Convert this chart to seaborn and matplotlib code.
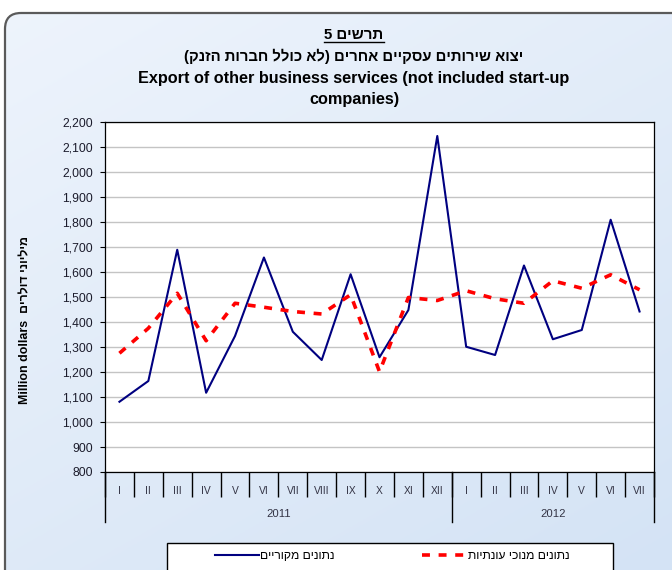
import numpy as np
import pandas as pd
import matplotlib
matplotlib.use("Agg")
import matplotlib.pyplot as plt
import seaborn as sns
from matplotlib.patches import FancyBboxPatch, Rectangle
from matplotlib.lines import Line2D
from matplotlib.ticker import FuncFormatter

# ---------------- data ----------------
months = ["I", "II", "III", "IV", "V", "VI", "VII", "VIII", "IX", "X", "XI", "XII",
          "I", "II", "III", "IV", "V", "VI", "VII"]
years = ["2011", "2012"]
year_counts = [12, 7]
original = [1081, 1164, 1689, 1117, 1344, 1658, 1361, 1248, 1591, 1259, 1448, 2144,
            1301, 1268, 1626, 1331, 1368, 1809, 1442]
seasonal = [1275, 1375, 1515, 1325, 1475, 1459, 1442, 1432, 1509, 1201, 1498, 1486,
            1525, 1493, 1475, 1565, 1535, 1589, 1529]
yticks = list(range(800, 2201, 100))

title_he = "תרשים 5"
subtitle_he = "יצוא שירותים עסקיים אחרים (לא כולל חברות הזנק)"
title_en1 = "Export of other business services (not included start-up"
title_en2 = "companies)"
ylabel_en = "Million dollars"
ylabel_he = "מיליוני דולרים"
label_orig = "נתונים מקוריים"
label_seas = "נתונים מנוכי עונתיות"


def vis(s):
    """Logical RTL Hebrew -> visual order for left-to-right rendering."""
    return s[::-1].translate(str.maketrans("()", ")("))


FAM = ["Liberation Sans", "DejaVu Sans"]
plt.rcParams["font.family"] = FAM

W, H = 672, 570
fig = plt.figure(figsize=(W / 100, H / 100), dpi=100, facecolor="white")

# ---------------- background panel ----------------
bg = fig.add_axes([0, 0, 1, 1], zorder=-10)
bg.set_xlim(0, W)
bg.set_ylim(H, 0)
bg.axis("off")
gy, gx = np.mgrid[0:1:200j, 0:1:200j]
g = 0.6 * gy + 0.4 * gx
c0 = np.array([0xee, 0xf4, 0xfc]) / 255
c1 = np.array([0xd4, 0xe3, 0xf5]) / 255
img = c0[None, None, :] * (1 - g[..., None]) + c1[None, None, :] * g[..., None]
panel = FancyBboxPatch((5, 13), W + 40, H + 40,
                       boxstyle="round,pad=0,rounding_size=16",
                       facecolor="none", edgecolor="#5a5a5a", linewidth=1.6)
bg.add_patch(panel)
im = bg.imshow(img, extent=(0, W, H, 0), aspect="auto", zorder=0)
im.set_clip_path(panel)

# ---------------- main axes ----------------
L, R, T, B = 105, 654, 122, 472
ax = fig.add_axes([L / W, 1 - B / H, (R - L) / W, (B - T) / H], zorder=1)
ax.set_facecolor("white")

x = np.arange(len(months))
df = pd.DataFrame({"x": x, "original": original, "seasonal": seasonal})
sns.lineplot(data=df, x="x", y="original", ax=ax, color="#000080", linewidth=1.5,
             zorder=3)
sns.lineplot(data=df, x="x", y="seasonal", ax=ax, color="#ff0000", linewidth=2.6,
             linestyle=(0, (2.2, 2.4)), zorder=4)

ax.set_xlim(-0.5, len(months) - 0.5)
ax.set_ylim(yticks[0], yticks[-1])
ax.set_yticks(yticks)
ax.yaxis.set_major_formatter(FuncFormatter(lambda v, p: f"{int(v):,}"))
ax.grid(axis="y", color="#c4c4c4", linewidth=1.0)
ax.set_axisbelow(True)
for s in ax.spines.values():
    s.set_color("black")
    s.set_linewidth(0.9)

ax.tick_params(axis="y", direction="out", length=3.5, width=0.8, color="black",
               labelsize=8.7, labelcolor="#1c1c2c", pad=5)

# category axis: separators as major ticks, labels as minor ticks
ax.set_xticks(np.arange(-0.5, len(months), 1.0))
ax.set_xticklabels([])
ax.set_xticks(x, minor=True)
ax.set_xticklabels(months, minor=True)
ax.tick_params(axis="x", which="major", direction="out", length=18, width=1.0,
               color="black")
ax.tick_params(axis="x", which="minor", length=0, labelsize=7.4, pad=10,
               labelcolor="#333344")
ax.set_xlabel("")
ax.set_ylabel("")

xt = ax.get_xaxis_transform()
bounds = np.concatenate([[0], np.cumsum(year_counts)]) - 0.5
depth = (522 - B) / (B - T)
for b in bounds:
    ax.plot([b, b], [0, -depth], transform=xt, color="black", linewidth=1.0,
            clip_on=False)
for i, yr in enumerate(years):
    mid = (bounds[i] + bounds[i + 1]) / 2
    ax.text(mid, -(514 - B) / (B - T), yr, transform=xt, ha="center",
            va="center", fontsize=8.1, color="#333344")

# y label
fig.text(25 / W, 1 - 320 / H, ylabel_en + "  " + vis(ylabel_he), rotation=90,
         ha="center", va="center", fontsize=8.9, fontweight="bold", color="black")

# titles
cx = 354 / W
t1 = fig.text(cx, 1 - 39 / H, vis(title_he), ha="center", va="baseline",
              fontsize=10.8, fontweight="bold")
fig.text(cx, 1 - 61.5 / H, vis(subtitle_he), ha="center", va="baseline",
         fontsize=10.7, fontweight="bold")
fig.text(cx, 1 - 83 / H, title_en1, ha="center", va="baseline",
         fontsize=11.7, fontweight="bold")
fig.text(cx, 1 - 104 / H, title_en2, ha="center", va="baseline",
         fontsize=11.7, fontweight="bold")
fig.canvas.draw()
bb = t1.get_window_extent()
uy = 1 - 42 / H
fig.add_artist(Line2D([bb.x0 / W, bb.x1 / W], [uy, uy], transform=fig.transFigure,
                      color="black", linewidth=1.0))

# legend
fig.add_artist(Rectangle((167 / W, 1 - 580 / H), (613 - 167) / W, (580 - 543) / H,
                         transform=fig.transFigure, facecolor="white",
                         edgecolor="black", linewidth=1.0, zorder=5))
handles = [Line2D([], [], color="#000080", linewidth=1.5),
           Line2D([], [], color="#ff0000", linewidth=2.6, linestyle=(0, (2.2, 2.4)))]
leg = fig.legend(handles, [vis(label_orig), vis(label_seas)], ncol=2,
                 loc="center", bbox_to_anchor=(392 / W, 1 - 556 / H),
                 frameon=False, fontsize=8.7, handlelength=3.7, handletextpad=0.1,
                 columnspacing=7.2, borderpad=0)
leg.set_zorder(6)

fig.savefig("out.png", dpi=100, facecolor="white")
